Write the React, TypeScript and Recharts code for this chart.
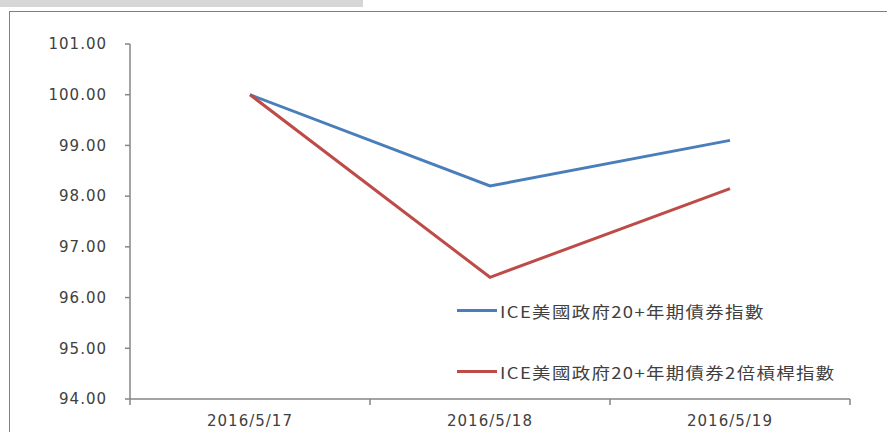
import React from "react";
import { LineChart, Line, XAxis, YAxis, Legend } from "recharts";

const dates = ["2016/5/17", "2016/5/18", "2016/5/19"];
const iceIndex = [100.0, 98.2, 99.1];
const iceLeveraged = [100.0, 96.4, 98.15];
const yTicks = [94, 95, 96, 97, 98, 99, 100, 101];

const seriesNames = {
  ice: "ICE美國政府20+年期債券指數",
  lev: "ICE美國政府20+年期債券2倍槓桿指數",
};
const legendOrder = ["ice", "lev"];

const data = dates.map((d, i) => ({
  date: d,
  ice: iceIndex[i],
  lev: iceLeveraged[i],
}));

const W = 887;
const H = 432;
const M = { top: 44, right: 37, left: 50, bottom: 3 };
const Y_AXIS_W = 80;
const X_AXIS_H = 30;
const plotW = W - M.left - M.right - Y_AXIS_W;
const band = plotW / dates.length;

const AXIS = "#868686";
const TEXT = "#404040";
const FONT = "'DejaVu Sans', Verdana, sans-serif";

const XTick = (props: any) => {
  const { x, y, payload, index } = props;
  const half = band / 2;
  return (
    <g>
      <line x1={x - half} x2={x - half} y1={y} y2={y + 6} stroke={AXIS} strokeWidth={1.5} />
      {index === dates.length - 1 && (
        <line x1={x + half} x2={x + half} y1={y} y2={y + 6} stroke={AXIS} strokeWidth={1.5} />
      )}
      <text
        x={x}
        y={y + 27}
        textAnchor="middle"
        fill={TEXT}
        fontSize={15}
        fontFamily={FONT}
        letterSpacing={1}
      >
        {payload.value}
      </text>
    </g>
  );
};

const LegendBox = (props: any) => {
  const items = [...(props.payload || [])].sort(
    (a: any, b: any) => legendOrder.indexOf(a.dataKey) - legendOrder.indexOf(b.dataKey)
  );
  return (
    <div style={{ position: "absolute", left: 0, top: 0 }}>
      {items.map((it: any) => (
        <div key={it.value} style={{ display: "flex", alignItems: "center", height: 61 }}>
          <div style={{ width: 40, height: 3, background: it.color, marginRight: 3, flex: "none" }} />
          <span
            style={{
              fontFamily: "'Noto Sans CJK TC', 'Noto Sans', sans-serif",
              fontSize: 16,
              letterSpacing: 1.2,
              color: TEXT,
              whiteSpace: "nowrap",
              display: "inline-block",
              transform: "scaleX(1.15)",
              transformOrigin: "left center",
            }}
          >
            {it.value}
          </span>
        </div>
      ))}
    </div>
  );
};

export default function App() {
  return (
    <div style={{ position: "fixed", left: 0, top: 0, width: W, height: H, background: "#fff", overflow: "hidden" }}>
      <div style={{ position: "absolute", left: 0, top: 0, width: 363, height: 7, background: "#d6d6d6" }} />
      <div
        style={{
          position: "absolute",
          left: 9,
          top: 11,
          width: W,
          height: H,
          borderLeft: "1.5px solid #808080",
          borderTop: "1.5px solid #808080",
        }}
      />
      <div style={{ position: "absolute", left: 0, top: 0 }}>
        <LineChart width={W} height={H} data={data} margin={M}>
          <XAxis
            dataKey="date"
            height={X_AXIS_H}
            stroke={AXIS}
            strokeWidth={1.5}
            tickLine={false}
            tickSize={0}
            tickMargin={0}
            tick={<XTick />}
            interval={0}
            padding={{ left: band / 2, right: band / 2 }}
          />
          <YAxis
            width={Y_AXIS_W}
            domain={[94, 101]}
            ticks={yTicks}
            interval={0}
            stroke={AXIS}
            strokeWidth={1.5}
            tickSize={5}
            tickMargin={18}
            tickFormatter={(v: number) => v.toFixed(2)}
            tick={{ fill: TEXT, fontSize: 15, fontFamily: FONT, letterSpacing: 1 }}
          />
          <Legend
            layout="horizontal"
            verticalAlign="bottom"
            align="left"
            wrapperStyle={{ position: "absolute", left: 457, top: 280, width: 0, height: 0 }}
            content={<LegendBox />}
          />
          <Line
            dataKey="ice"
            name={seriesNames.ice}
            type="linear"
            stroke="#4A7EBB"
            strokeWidth={3}
            dot={false}
            isAnimationActive={false}
          />
          <Line
            dataKey="lev"
            name={seriesNames.lev}
            type="linear"
            stroke="#BE4B48"
            strokeWidth={3}
            dot={false}
            isAnimationActive={false}
          />
        </LineChart>
      </div>
    </div>
  );
}
